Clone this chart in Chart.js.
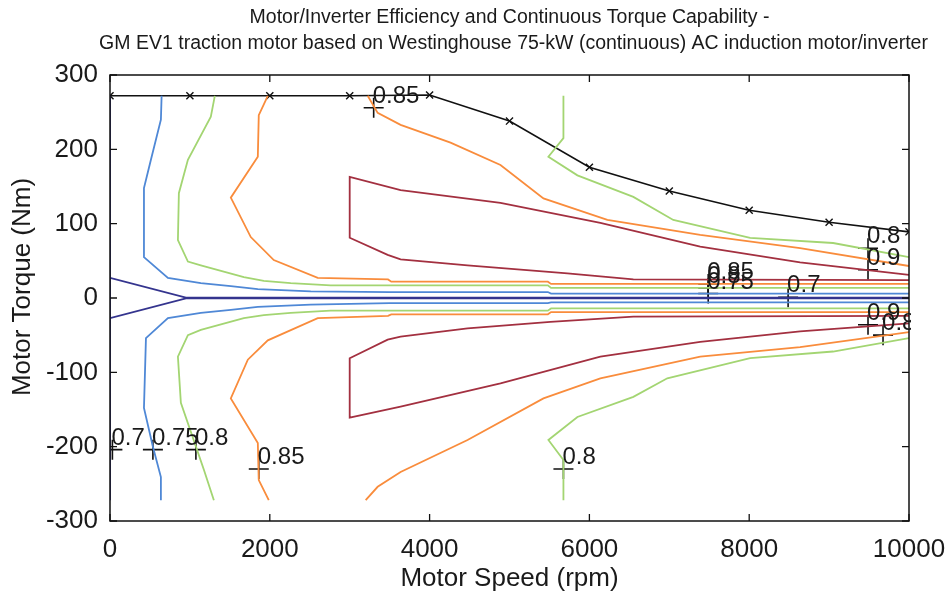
<!DOCTYPE html>
<html>
<head>
<meta charset="utf-8">
<script src="https://cdn.jsdelivr.net/npm/chart.js@4/dist/chart.umd.min.js"></script>
<style>
  html, body { margin: 0; padding: 0; background: #fff; }
  canvas { display: block; }
</style>
</head>
<body>
<canvas id="effChart" width="947" height="596"></canvas>
<script>
'use strict';

const titleLines = [
  'Motor/Inverter Efficiency and Continuous Torque Capability -',
  'GM EV1 traction motor based on Westinghouse 75-kW (continuous) AC induction motor/inverter'
];
const yTitle = 'Motor Torque (Nm)';
const speedTicks = [0, 2000, 4000, 6000, 8000, 10000];
const torqueTicks = [-300, -200, -100, 0, 100, 200, 300];

// continuous torque capability (x markers)
const limitSpeed = [0, 1000, 2000, 3000, 4000, 5000, 6000, 7000, 8000, 9000, 10000];
const limitTorque = [272, 272, 272, 272, 273, 238, 176, 144, 118, 102, 89];

// efficiency contours as [rpm, Nm] pairs
const eff70Edge = [[0, 272], [0, -272]];
const eff70Up = [[0, 27], [950, 0.4], [10000, 0.4]];
const eff70Dn = [[0, -27], [950, -0.4], [10000, -0.4]];

const eff75Up = [[646, 272], [637, 240], [512, 186], [425, 148], [425, 55], [725, 27], [1137, 20],
  [1512, 16], [1850, 12], [2512, 9], [3500, 8], [5480, 8], [5520, 6], [10000, 6]];
const eff75Dn = [[637, -272], [637, -241], [537, -200], [425, -148], [450, -54], [725, -27], [1137, -20],
  [1512, -16], [1850, -12], [2512, -9], [3500, -7], [5480, -7], [5520, -6], [10000, -6]];

const eff80UpLeft = [[1312, 272], [1262, 244], [975, 186], [862, 141], [850, 78], [975, 49], [1137, 44],
  [1675, 28], [1925, 23], [2262, 20], [2762, 17], [5480, 17], [5520, 13.5], [10000, 13.5]];
const eff80DnLeft = [[1300, -272], [1175, -231], [887, -141], [850, -79], [975, -50], [1137, -43],
  [1675, -27], [1925, -23], [2262, -20], [2762, -17], [5480, -17], [5520, -14], [10000, -14]];
const eff80UpRight = [[5675, 272], [5675, 215], [5487, 190], [5850, 165], [6550, 136], [7050, 105],
  [8012, 81], [9050, 74], [10000, 55]];
const eff80DnRight = [[5675, -272], [5675, -218], [5487, -191], [5850, -160], [6550, -133], [6975, -108],
  [8012, -81], [9050, -72], [10000, -54]];

const eff85UpLeft = [[1975, 272], [1862, 246], [1850, 190], [1512, 135], [1762, 82], [2050, 51],
  [2600, 27], [3480, 25], [3520, 22], [5480, 22], [5520, 19], [10000, 19]];
const eff85DnLeft = [[1987, -272], [1862, -245], [1850, -195], [1512, -135], [1725, -83], [1975, -57],
  [2600, -27], [3480, -24], [3520, -22], [5480, -22], [5520, -19], [10000, -19]];
const eff85UpRight = [[3225, 272], [3350, 249], [3637, 233], [4262, 209], [4887, 179], [5425, 134],
  [6225, 105], [7387, 85], [8637, 67], [10000, 43]];
const eff85DnRight = [[3200, -272], [3350, -254], [3637, -234], [4475, -191], [5425, -135], [6137, -108],
  [7387, -79], [8637, -66], [10000, -46]];

const eff90Up = [[10000, 31], [8637, 48], [7387, 69], [6137, 101], [4887, 128], [3637, 145], [3000, 163],
  [3000, 81], [3475, 58], [3637, 52], [4475, 44], [5725, 33], [6550, 25], [10000, 24]];
const eff90Dn = [[10000, -34], [8637, -45], [7387, -59], [6137, -79], [4887, -115], [3637, -146], [3000, -161],
  [3000, -81], [3475, -56], [3637, -52], [4475, -41], [5512, -32], [6550, -25], [10000, -24]];

// contour labels (clabel style: "+" at the point, text beside it)
const labelSpeed = [3300, 30, 537, 1075, 1862, 5675, 7487, 7487, 7487, 8487, 9487, 9487, 9487, 9675];
const labelTorque = [256, -204, -204, -204, -230, -230, 19, 13.5, 6, 1, 67, 38, -36, -50];
const labelText = ['0.85', '0.7', '0.75', '0.8', '0.85', '0.8', '0.85', '0.8', '0.75', '0.7', '0.8', '0.9', '0.9', '0.85'];

const colors = {
  e70: '#34348e',
  e75: '#4f88d6',
  e80: '#a3d572',
  e85: '#f98c3c',
  e90: '#a33040'
};

const toXY = pts => pts.map(p => ({ x: p[0], y: p[1] }));

function contour(pts, color) {
  return {
    data: toXY(pts),
    borderColor: color,
    borderWidth: 1.8,
    pointRadius: 0,
    fill: false,
    tension: 0
  };
}

const FONT = '"Liberation Sans", Arial, sans-serif';
const INK = '#1a1a1a';

const framePlugin = {
  id: 'frame',
  afterDatasetsDraw(chart) {
    const { ctx, chartArea: a, scales } = chart;
    ctx.save();
    ctx.strokeStyle = '#111';
    ctx.lineWidth = 1.5;
    ctx.strokeRect(a.left, a.top, a.right - a.left, a.bottom - a.top);
    ctx.lineWidth = 1.3;
    ctx.beginPath();
    speedTicks.forEach(v => {
      const px = scales.x.getPixelForValue(v);
      ctx.moveTo(px, a.bottom); ctx.lineTo(px, a.bottom - 7);
      ctx.moveTo(px, a.top); ctx.lineTo(px, a.top + 7);
    });
    torqueTicks.forEach(v => {
      const py = scales.y.getPixelForValue(v);
      ctx.moveTo(a.left, py); ctx.lineTo(a.left + 7, py);
      ctx.moveTo(a.right, py); ctx.lineTo(a.right - 7, py);
    });
    ctx.stroke();

    // contour label texts
    ctx.beginPath();
    ctx.rect(a.left, a.top, a.right - a.left + 2, a.bottom - a.top);
    ctx.clip();
    ctx.fillStyle = INK;
    ctx.font = '24px ' + FONT;
    ctx.textAlign = 'left';
    ctx.textBaseline = 'alphabetic';
    labelText.forEach((t, i) => {
      const px = scales.x.getPixelForValue(labelSpeed[i]);
      const py = scales.y.getPixelForValue(labelTorque[i]);
      ctx.fillText(t, px - 1, py - 5);
    });
    ctx.restore();
  },
  afterDraw(chart) {
    const { ctx, chartArea: a } = chart;
    ctx.save();
    ctx.fillStyle = INK;
    ctx.font = '19.5px ' + FONT;
    ctx.textAlign = 'center';
    ctx.textBaseline = 'middle';
    const cx = (a.left + a.right) / 2;
    ctx.fillText(titleLines[0], cx, 18);
    ctx.fillText(titleLines[1], cx + 4, 44);

    // y axis title, a bit above the axis centre like the reference
    ctx.font = '26px ' + FONT;
    ctx.translate(23, (a.top + a.bottom) / 2 - 11);
    ctx.rotate(-Math.PI / 2);
    ctx.fillText(yTitle, 0, 0);
    ctx.restore();
  }
};

const ctx = document.getElementById('effChart').getContext('2d');
const effChart = new Chart(ctx, {
  type: 'line',
  data: {
    datasets: [
      contour(eff70Edge, colors.e70),
      contour(eff70Up, colors.e70),
      contour(eff70Dn, colors.e70),
      contour(eff75Up, colors.e75),
      contour(eff75Dn, colors.e75),
      contour(eff80UpLeft, colors.e80),
      contour(eff80DnLeft, colors.e80),
      contour(eff80UpRight, colors.e80),
      contour(eff80DnRight, colors.e80),
      contour(eff85UpLeft, colors.e85),
      contour(eff85DnLeft, colors.e85),
      contour(eff85UpRight, colors.e85),
      contour(eff85DnRight, colors.e85),
      contour(eff90Up, colors.e90),
      contour(eff90Dn, colors.e90),
      {
        data: limitSpeed.map((s, i) => ({ x: s, y: limitTorque[i] })),
        borderColor: '#111',
        borderWidth: 1.6,
        pointStyle: 'crossRot',
        pointRadius: 5,
        pointBorderWidth: 1.4,
        pointBorderColor: '#111',
        fill: false,
        tension: 0
      },
      {
        data: labelSpeed.map((s, i) => ({ x: s, y: labelTorque[i] })),
        showLine: false,
        pointStyle: 'cross',
        pointRadius: 10,
        pointBorderWidth: 1.6,
        pointBorderColor: '#111',
        borderColor: '#111'
      }
    ]
  },
  options: {
    responsive: false,
    animation: false,
    devicePixelRatio: 1,
    layout: { padding: { top: 75, right: 38, left: 0, bottom: 0 } },
    plugins: {
      legend: { display: false },
      tooltip: { enabled: false },
      title: { display: false }
    },
    scales: {
      x: {
        type: 'linear',
        min: 0,
        max: 10000,
        grid: { display: false },
        border: { display: false },
        ticks: {
          stepSize: 2000,
          maxRotation: 0,
          color: INK,
          padding: 5,
          font: { family: FONT, size: 26 },
          callback: v => String(v)
        },
        title: {
          display: true,
          text: 'Motor Speed (rpm)',
          color: INK,
          font: { family: FONT, size: 26 },
          padding: { top: 0, bottom: 2 }
        },
        afterFit: s => { s.height = 75; s.paddingRight = 0; s.paddingLeft = 0; }
      },
      y: {
        type: 'linear',
        min: -300,
        max: 300,
        grid: { display: false },
        border: { display: false },
        ticks: {
          stepSize: 100,
          color: INK,
          padding: 4,
          font: { family: FONT, size: 26 },
          callback: v => String(v)
        },
        title: { display: false },
        afterFit: s => { s.width = 110; s.paddingTop = 0; s.paddingBottom = 0; }
      }
    }
  },
  plugins: [framePlugin]
});
</script>
</body>
</html>
